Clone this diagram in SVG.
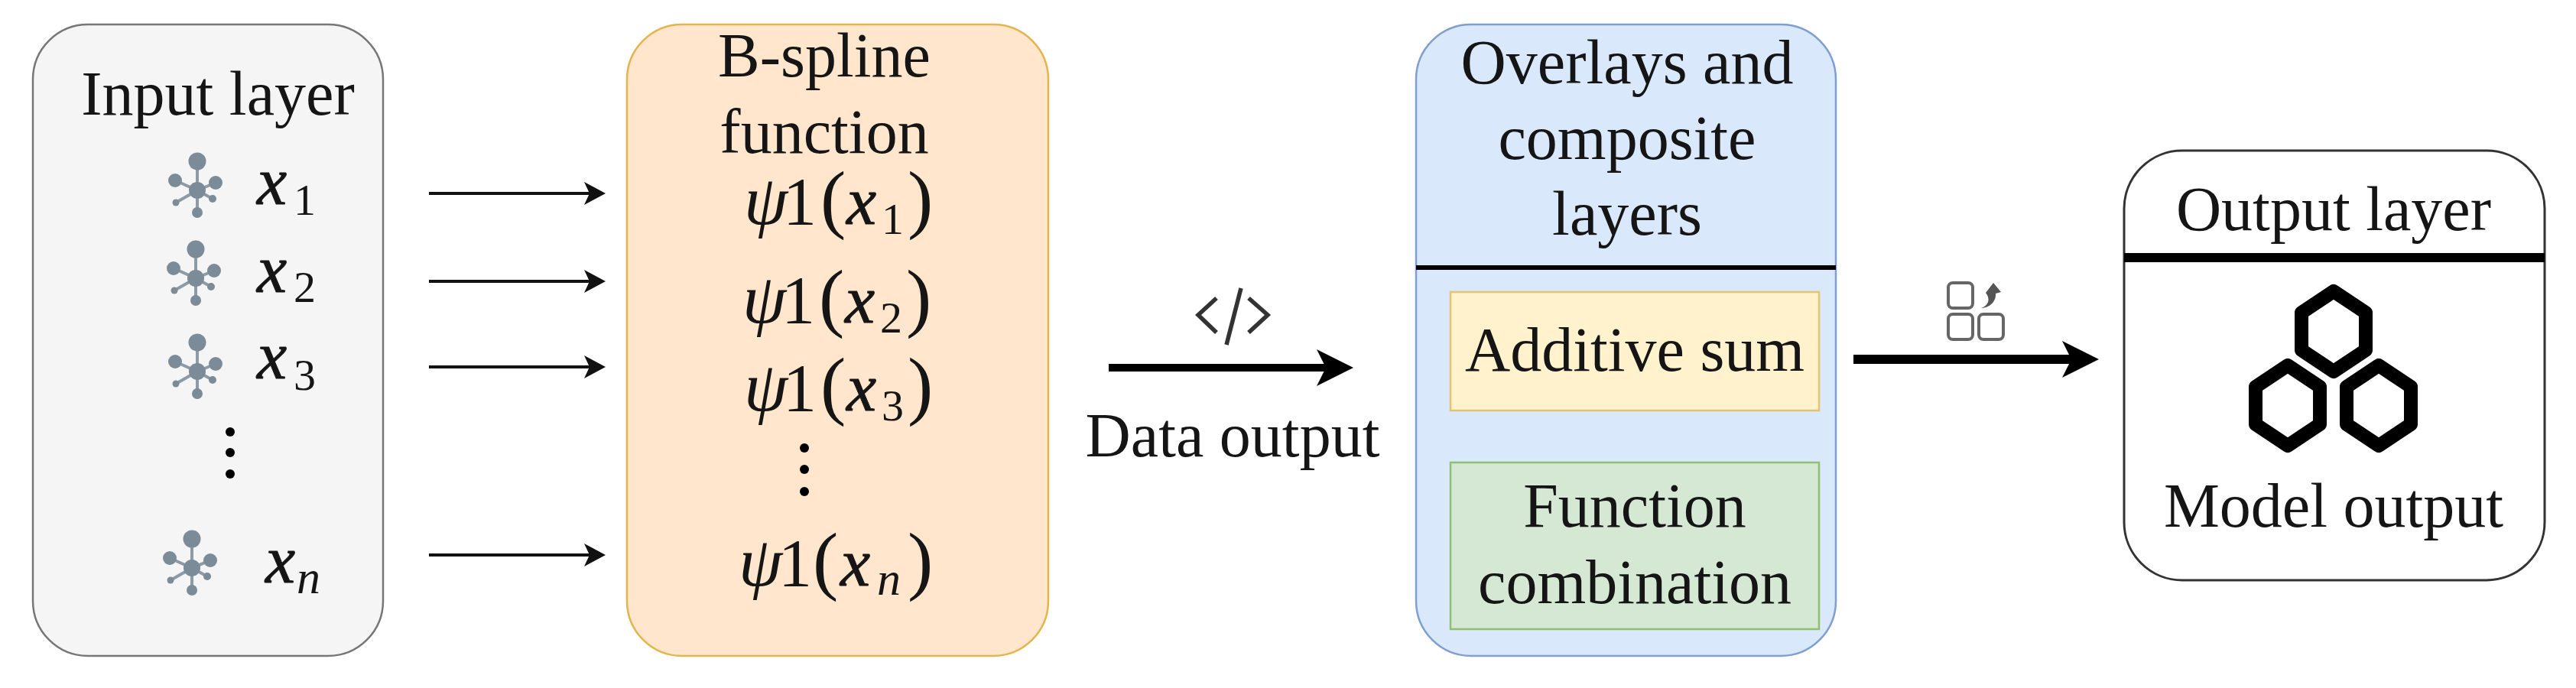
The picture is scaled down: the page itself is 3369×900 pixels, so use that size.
<svg xmlns="http://www.w3.org/2000/svg" xmlns:xlink="http://www.w3.org/1999/xlink" width="3369" height="900" viewBox="0 0 3369 900">
<style>
text{font-family:"Liberation Serif","Times New Roman",serif;fill:#151515}
.t{font-size:82px;text-anchor:middle}
.m{font-size:92px;font-style:italic}
.x{font-size:88px;font-style:italic;stroke:#151515;stroke-width:1}
.d{font-style:normal;font-size:88px}
.p{font-style:normal;font-size:100px}
.s{font-size:58px;font-style:normal;stroke:none}
.si{font-size:62px;font-style:italic;stroke:none}
.thin{stroke:#111;stroke-width:4;fill:none}
.thick{stroke:#000;fill:none}
.net{fill:#7b8b97;stroke:none}
.netl{stroke:#8d9ba6;stroke-width:4}
.ico{fill:none;stroke:#666;stroke-width:4}
</style>
<defs>
<marker id="ah" markerUnits="userSpaceOnUse" markerWidth="28" markerHeight="30" refX="15" refY="15" orient="auto"><path d="M0,0 L28,15 L0,30 L7,15 Z" fill="#111"/></marker>
<marker id="ahb" markerUnits="userSpaceOnUse" markerWidth="50" markerHeight="50" refX="18" refY="24" orient="auto"><path d="M0,0 L48,24 L0,48 L12,24 Z" fill="#000"/></marker>
<g id="network">
<path class="netl" d="M0,0 L0,-38 M0,0 L-29,-13 M0,0 L24,-10 M0,0 L-28,16 M0,0 L20,11 M0,0 L0,29"/>
<circle class="net" cx="0" cy="-38" r="11.5"/>
<circle class="net" cx="-29" cy="-13" r="9"/>
<circle class="net" cx="24" cy="-10" r="9"/>
<circle class="net" cx="-28" cy="16" r="4.5"/>
<circle class="net" cx="20" cy="11" r="5"/>
<circle class="net" cx="0" cy="29" r="7"/>
<circle class="net" cx="0" cy="0" r="11"/>
</g>
<path id="hex" d="M0,-48 L42,-20 L42,29 L0,57 L-42,29 L-42,-20 Z" fill="none" stroke="#000" stroke-width="18" stroke-linejoin="round" transform="translate(0,-4)"/>
</defs>
<rect width="3369" height="900" fill="#fff"/>

<g id="input-layer">
<rect x="43" y="32" width="458" height="826" rx="72" ry="72" fill="#f5f5f5" stroke="#777" stroke-width="2.5"/>
<text class="t" x="285" y="150">Input layer</text>
<use xlink:href="#network" href="#network" x="258" y="249"/>
<use xlink:href="#network" href="#network" x="256" y="364"/>
<use xlink:href="#network" href="#network" x="258" y="486"/>
<use xlink:href="#network" href="#network" x="251" y="743"/>
<text class="x" x="336" y="267">x<tspan class="s" x="384" y="281">1</tspan></text>
<text class="x" x="336" y="382">x<tspan class="s" x="384" y="395">2</tspan></text>
<text class="x" x="336" y="495">x<tspan class="s" x="384" y="510">3</tspan></text>
<text class="x" x="347" y="762">x<tspan class="si" x="388" y="776">n</tspan></text>
<circle cx="301" cy="565" r="6"/><circle cx="301" cy="592" r="6"/><circle cx="301" cy="620" r="6"/>
</g>

<g id="bspline">
<rect x="820" y="32" width="551" height="826" rx="72" ry="72" fill="#ffe6cc" stroke="#e5b44c" stroke-width="2.5"/>
<text class="t" x="1078" y="100">B-spline</text>
<text class="t" x="1078" y="200">function</text>
<text class="m" x="973" y="293">ψ<tspan class="d" x="1024" y="293">1</tspan><tspan class="p" x="1073" y="293">(</tspan><tspan class="x" x="1107" y="293">x</tspan><tspan class="s" x="1153" y="306">1</tspan><tspan class="p" x="1187" y="293">)</tspan></text>
<text class="m" x="971" y="422">ψ<tspan class="d" x="1022" y="422">1</tspan><tspan class="p" x="1071" y="422">(</tspan><tspan class="x" x="1105" y="422">x</tspan><tspan class="s" x="1151" y="435">2</tspan><tspan class="p" x="1185" y="422">)</tspan></text>
<text class="m" x="973" y="537">ψ<tspan class="d" x="1024" y="537">1</tspan><tspan class="p" x="1073" y="537">(</tspan><tspan class="x" x="1107" y="537">x</tspan><tspan class="s" x="1153" y="550">3</tspan><tspan class="p" x="1187" y="537">)</tspan></text>
<text class="m" x="966" y="766">ψ<tspan class="d" x="1018" y="766">1</tspan><tspan class="p" x="1063" y="766">(</tspan><tspan class="x" x="1099" y="766">x</tspan><tspan class="si" x="1147" y="778">n</tspan><tspan class="p" x="1187" y="766">)</tspan></text>
<circle cx="1052" cy="586" r="6"/><circle cx="1052" cy="614" r="6"/><circle cx="1052" cy="643" r="6"/>
</g>

<g id="overlays">
<rect x="1852" y="32" width="549" height="826" rx="72" ry="72" fill="#dae8fc" stroke="#7f9fd0" stroke-width="2.5"/>
<line x1="1852" y1="350" x2="2401" y2="350" stroke="#000" stroke-width="6"/>
<text class="t" x="2128" y="109">Overlays and</text>
<text class="t" x="2128" y="208">composite</text>
<text class="t" x="2128" y="307">layers</text>
</g>
<g id="additive-sum">
<rect x="1897" y="382" width="482" height="155" fill="#fff2cc" stroke="#e3c46f" stroke-width="2.5"/>
<text class="t" x="2138" y="485">Additive sum</text>
</g>
<g id="function-combination">
<rect x="1897" y="605" width="482" height="218" fill="#d5e8d4" stroke="#8fbf73" stroke-width="2.5"/>
<text class="t" x="2138" y="689">Function</text>
<text class="t" x="2138" y="789">combination</text>
</g>

<g id="output-layer">
<rect x="2778" y="197" width="550" height="562" rx="76" ry="76" fill="#fff" stroke="#333" stroke-width="3"/>
<line x1="2778" y1="337" x2="3328" y2="337" stroke="#000" stroke-width="12"/>
<text class="t" x="3052" y="301">Output layer</text>
<text class="t" x="3052" y="689">Model output</text>
<use xlink:href="#hex" href="#hex" x="3052" y="433"/>
<use xlink:href="#hex" href="#hex" x="2992" y="530"/>
<use xlink:href="#hex" href="#hex" x="3111" y="530"/>
</g>

<g id="connectors">
<line class="thin" x1="561" y1="253" x2="779" y2="253" marker-end="url(#ah)"/>
<line class="thin" x1="561" y1="368" x2="779" y2="368" marker-end="url(#ah)"/>
<line class="thin" x1="561" y1="480" x2="779" y2="480" marker-end="url(#ah)"/>
<line class="thin" x1="561" y1="726" x2="779" y2="726" marker-end="url(#ah)"/>
<line class="thick" stroke-width="10" x1="1450" y1="481" x2="1740" y2="481" marker-end="url(#ahb)"/>
<line class="thick" stroke-width="12" x1="2424" y1="470" x2="2715" y2="470" marker-end="url(#ahb)"/>
</g>

<g id="data-output">
<path d="M1591,390 L1567,412 L1591,435 M1623,377 L1604,451 M1633,390 L1658,412 L1633,435" fill="none" stroke="#333" stroke-width="5.5"/>
<text class="t" x="1612" y="597">Data output</text>
</g>

<g id="grid-icon">
<rect class="ico" x="2548" y="370" width="32" height="33" rx="6"/>
<rect class="ico" x="2548" y="411" width="32" height="33" rx="6"/>
<rect class="ico" x="2588" y="411" width="32" height="33" rx="6"/>
<path d="M2591,403 C2600,400 2604,392 2597,383 L2607,370 L2617,382 L2610,384 C2611,394 2602,403 2591,403 Z" fill="#555"/>
</g>
</svg>
